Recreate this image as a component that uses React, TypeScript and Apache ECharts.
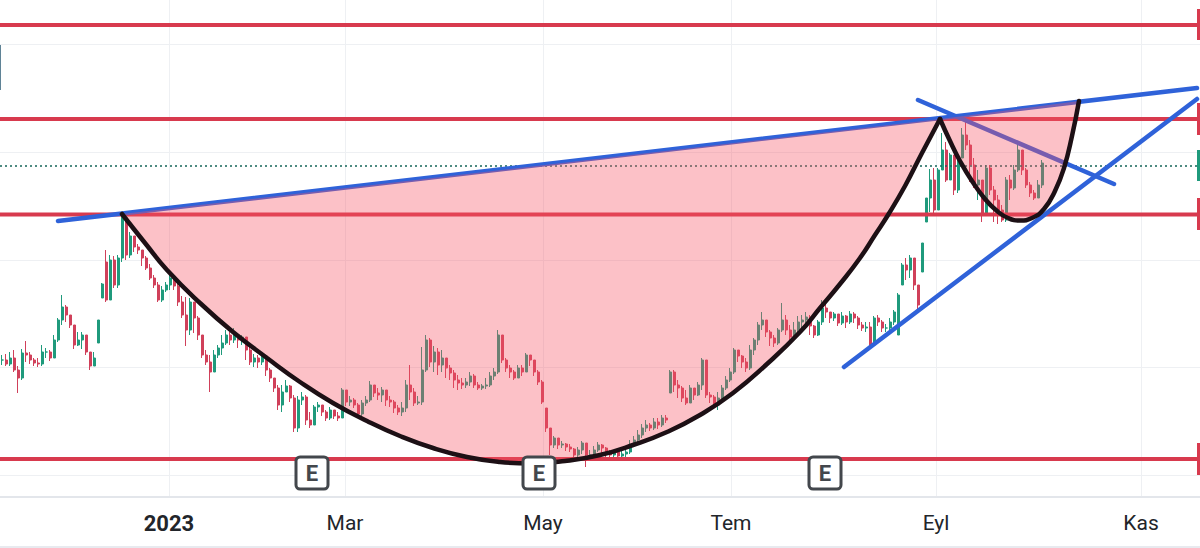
import { useEffect, useRef } from "react"
import * as echarts from "echarts"

// x is the session number, y an unlabelled price scale
const closes = [
  137,133,139,127,119,144,142,137,134,133,
  145,145,139,157,177,190,182,172,152,157,
  162,145,131,139,177,213,197,237,212,239,
  279,242,261,250,247,239,229,219,212,197,
  207,212,219,211,195,182,167,195,179,162,
  142,135,125,142,149,154,162,157,162,157,
  160,147,135,139,135,141,127,119,109,92,
  105,111,99,69,97,100,77,72,90,92,
  85,79,87,81,79,107,95,97,92,83,
  94,97,112,104,102,107,97,95,89,85,
  89,112,105,94,95,127,157,135,145,132,
  139,129,124,117,114,112,115,121,112,109,
  111,112,121,125,162,137,129,125,119,129,
  125,142,137,125,115,95,69,52,59,52,
  53,50,48,42,47,54,42,42,47,52,
  49,44,42,45,41,43,45,52,57,62,
  69,72,69,75,72,79,77,125,112,109,
  99,94,109,102,112,137,102,100,92,99,
  109,117,125,147,141,135,129,147,157,172,
  177,165,159,154,167,177,167,160,167,175,
  177,180,171,162,175,189,185,179,183,174,
  181,175,183,179,172,169,170,152,179,175,
  169,169,175,185,202,232,227,239,212,192,
  254,299,317,287,327,347,317,342,307,339,
  362,352,332,312,317,282,329,307,297,287,
  277,317,309,327,347,327,312,304,299,312,
  334,
]
const highs = [
  142,143,145,147,131,148,156,145,139,139,
  152,149,147,162,179,202,192,181,172,165,
  165,157,145,145,177,214,247,242,241,242,
  283,279,265,261,253,247,241,233,222,215,
  211,215,223,221,213,201,200,199,185,181,
  162,147,142,147,152,162,167,165,169,162,
  162,160,152,143,142,143,139,129,119,112,
  112,117,112,102,101,105,102,85,92,95,
  92,87,90,87,85,109,105,101,99,94,
  97,101,116,111,109,110,107,101,97,92,
  95,117,132,109,101,150,162,159,151,149,
  147,135,132,127,122,119,119,125,123,115,
  113,119,125,129,167,159,139,132,127,132,
  132,144,141,137,127,117,89,69,61,59,
  56,54,53,49,50,56,52,47,51,55,
  53,50,47,47,47,47,49,57,61,67,
  73,77,74,79,79,82,82,127,127,117,
  111,107,112,109,115,139,135,105,102,105,
  112,121,129,149,145,142,139,152,159,175,
  185,177,167,162,169,194,182,172,175,181,
  182,185,182,172,177,197,193,185,185,182,
  185,182,186,185,181,175,175,175,181,182,
  177,173,179,187,204,234,239,242,239,212,
  254,299,328,329,329,364,355,344,342,344,
  369,375,357,339,327,315,332,332,311,302,
  292,320,322,332,352,347,329,315,307,317,
  337,
]
const lows = [
  132,131,131,125,104,117,135,133,131,130,
  131,139,136,139,155,172,175,169,148,151,
  148,142,127,131,154,199,195,210,209,209,
  235,237,239,245,243,231,227,217,209,195,
  195,205,207,207,191,179,151,162,164,157,
  139,132,105,135,139,142,152,152,154,149,
  152,137,132,130,129,132,121,115,105,87,
  85,105,95,65,65,92,72,69,72,85,
  81,76,77,78,76,79,91,91,89,80,
  81,91,95,100,97,95,91,90,84,82,
  81,85,97,91,92,92,125,130,125,122,
  125,119,117,109,107,108,109,111,109,107,
  107,108,110,117,123,134,125,119,117,119,
  121,125,131,121,112,93,65,42,49,48,
  49,46,45,39,40,43,30,37,40,45,
  42,38,39,39,38,38,39,43,51,55,
  59,65,66,67,68,70,74,104,105,99,
  95,92,95,97,101,107,99,94,89,87,
  97,107,115,123,135,129,125,127,142,152,
  167,160,151,150,152,165,162,157,161,164,
  169,172,162,159,161,172,179,174,176,171,
  172,169,173,174,168,166,165,149,152,171,
  165,165,167,172,162,212,217,219,207,187,
  225,275,285,282,317,332,315,320,302,304,
  339,347,315,309,297,275,297,302,275,273,
  275,275,297,307,325,322,309,300,297,299,
  309,
]
// sessions that opened on a gap: session number -> open
const gapOpens: Record<number, number> = {
  24: 154, 25: 199, 26: 235, 136: 89, 167: 104, 224: 162, 225: 212, 230: 225, 231: 275,
}

const monthSessions = [41.75, 85.75, 135.25, 182.25, 233.5, 284.75]
const monthLabels = ["2023", "Mar", "May", "Tem", "Eyl", "Kas"]
const gridLevels = [22, 130, 237, 345, 453]

const resistanceLevels = [472, 378, 282.5, 38]
const lastPrice = 331
const earningsSessions = [77.5, 134.25, 205.75]

const cupCurve = [
  [30, 283], [35.75, 254], [41.25, 227], [49.5, 194], [57.75, 165], [66.25, 139], [74.5, 115],
  [82.75, 94], [91.25, 76], [99.5, 61], [107.75, 49], [116.25, 40], [124.5, 35], [132, 33.5],
  [140.75, 36], [149.5, 42], [157.75, 52], [166.25, 65], [174.5, 82], [182.75, 104], [191.25, 133],
  [199.5, 165], [204.5, 189], [209.5, 213], [214.5, 239], [218.25, 262], [221.5, 282],
  [225.75, 311], [230, 344], [234.5, 378],
]
const handleCurve = [
  [234.5, 378], [237, 356], [239.5, 336], [242.5, 316], [245.75, 298], [248.75, 286], [251.5, 279],
  [254.5, 276.5], [257.5, 279], [260.5, 288], [263.25, 306], [265.5, 329], [267.5, 361], [269.25, 396],
]
const rimLine = [[14, 276], [298.75, 409]]
const fallingLine = [[229, 397], [278, 313]]
const risingLine = [[210.5, 130], [298.75, 398]]

// price tags cut off at the chart's edges: from, to, low, high, colour
const priceTags: [number, number, number, number, string][] = [
  [298.75, 299.5, 457, 488, "#d83a4e"],
  [298.75, 299.5, 362, 394, "#d83a4e"],
  [298.75, 299.5, 316, 347, "#1f9a7c"],
  [298.75, 299.5, 267, 299, "#d83a4e"],
  [298.75, 299.5, 22, 54, "#d83a4e"],
  [-0.5, -0.25, 407, 452, "#5f8396"],
]

const candles = closes.map((c, i) => [
  i,
  gapOpens[i] ?? (i === 0 ? c : closes[i - 1]),
  c,
  lows[i],
  highs[i],
])

function lineSeries(name: string, data: number[][], color: string, width: number, z: number, smooth = false) {
  return {
    name,
    type: "line",
    data,
    smooth,
    showSymbol: false,
    silent: true,
    z,
    lineStyle: { color, width, cap: "round" },
  }
}

export default function App() {
  const chartRef = useRef<HTMLDivElement>(null)

  useEffect(() => {
    if (!chartRef.current) return
    const chart = echarts.init(chartRef.current, undefined, { renderer: "svg" })

    chart.setOption({
      animation: false,
      backgroundColor: "#ffffff",
      grid: { left: 0, right: 0, top: 0, bottom: 51 },
      xAxis: {
        type: "value",
        min: -0.5,
        max: 299.5,
        axisLine: { show: true, onZero: false, lineStyle: { color: "#e3e6eb", width: 2 } },
        axisTick: { show: false, customValues: monthSessions },
        splitLine: { show: true, lineStyle: { color: "#eef0f3", width: 1 } },
        axisLabel: {
          customValues: monthSessions,
          margin: 15,
          fontFamily: "Roboto",
          fontSize: 21,
          color: "#22252a",
          formatter: (v: number) => {
            const label = monthLabels[monthSessions.indexOf(v)]
            return label === "2023" ? `{b|${label}}` : label
          },
          rich: { b: { fontFamily: "Roboto", fontSize: 22, fontWeight: "bold", color: "#22252a" } },
        },
      },
      yAxis: {
        type: "value",
        min: 0,
        max: 497,
        axisLine: { show: false },
        axisTick: { show: false, customValues: gridLevels },
        axisLabel: { show: false, customValues: gridLevels },
        splitLine: { show: true, lineStyle: { color: "#eef0f3", width: 1 } },
      },
      graphic: [
        { type: "rect", shape: { x: 0, y: 546, width: 1200, height: 2 }, style: { fill: "#e8eaef" }, silent: true },
      ],
      series: [
        {
          name: "Price",
          type: "candlestick",
          data: candles,
          barWidth: 2.5,
          z: 2,
          itemStyle: {
            color: "#1f9a7c",
            color0: "#d0405a",
            borderColor: "#1f9a7c",
            borderColor0: "#d0405a",
            borderWidth: 1,
          },
        },
        {
          name: "Last price",
          type: "line",
          data: [[-0.5, lastPrice], [299.5, lastPrice]],
          showSymbol: false,
          silent: true,
          z: 3,
          lineStyle: { color: "#14655a", width: 1.5, type: [2, 3] },
        },
        ...resistanceLevels.map((level, i) =>
          lineSeries(`Level ${i + 1}`, [[-0.5, level], [298.75, level]], "#d83a4e", 4, 4),
        ),
        lineSeries("Rim", rimLine, "#2f62d9", 4.5, 5),
        lineSeries("Falling", fallingLine, "#2f62d9", 4.5, 5),
        lineSeries("Rising", risingLine, "#2f62d9", 4.5, 5),
        {
          name: "Cup fill",
          type: "custom",
          data: [[0], [1]],
          silent: true,
          z: 6,
          renderItem: (params: any, api: any) => {
            const curve = params.dataIndex === 0 ? cupCurve : handleCurve
            return {
              type: "polygon",
              shape: { points: curve.map((p) => api.coord(p)) },
              style: { fill: "rgba(247, 82, 100, 0.36)" },
            }
          },
        },
        lineSeries("Cup", cupCurve, "#1d1015", 4.5, 7, true),
        lineSeries("Handle", handleCurve, "#1d1015", 4.5, 7, true),
        {
          name: "Price tags",
          type: "custom",
          data: priceTags.map((t) => t.slice(0, 4)),
          silent: true,
          z: 8,
          renderItem: (params: any, api: any) => {
            const tag = priceTags[params.dataIndex]
            const a = api.coord([tag[0], tag[3]])
            const b = api.coord([tag[1], tag[2]])
            return {
              type: "rect",
              shape: { x: a[0], y: a[1], width: b[0] - a[0], height: b[1] - a[1] },
              style: { fill: tag[4] },
            }
          },
        },
        {
          name: "Earnings",
          type: "scatter",
          data: earningsSessions.map((s) => [s, 24]),
          symbol: "path://M2 0H14a2 2 0 0 1 2 2V14a2 2 0 0 1-2 2H2a2 2 0 0 1-2-2V2a2 2 0 0 1 2-2Z",
          symbolSize: 32,
          silent: true,
          z: 9,
          itemStyle: { color: "#ffffff", borderColor: "#43474c", borderWidth: 3, opacity: 1 },
          label: {
            show: true,
            position: "inside",
            formatter: "E",
            fontFamily: "Roboto",
            fontSize: 22,
            fontWeight: "bold",
            color: "#43474c",
          },
        },
      ],
    })

    return () => {
      chart.dispose()
    }
  }, [])

  return (
    <div
      ref={chartRef}
      style={{ position: "absolute", left: 0, top: 0, width: 1200, height: 548 }}
    />
  )
}
